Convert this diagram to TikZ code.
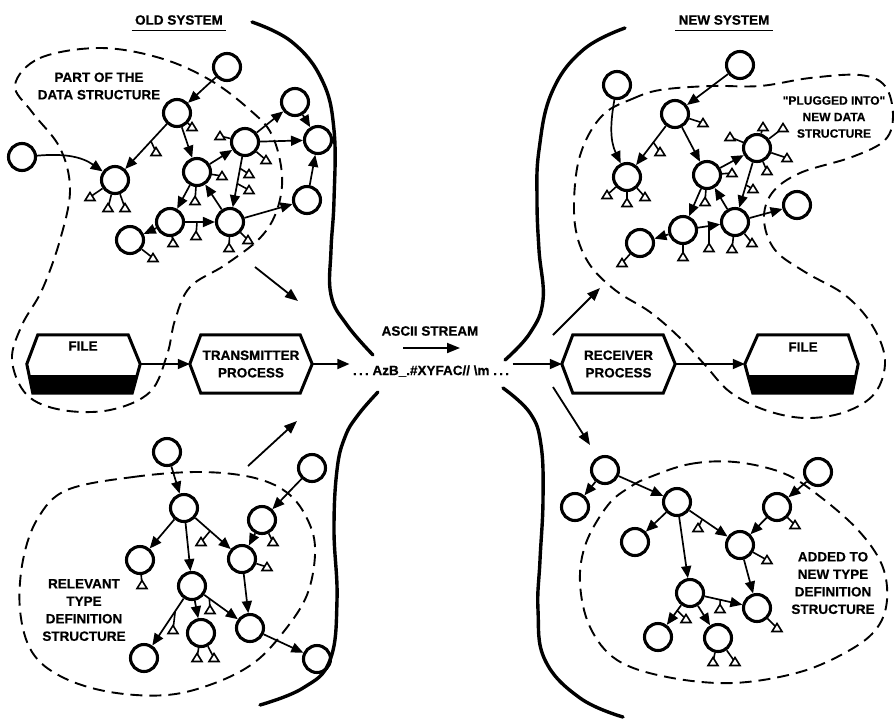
\documentclass[tikz,border=0pt]{standalone}
\usepackage{fontspec}
\setmainfont{Liberation Sans}
\newfontfamily\lblfont[BoldFeatures={FakeBold=0.5}]{Liberation Sans}
\usetikzlibrary{arrows.meta,calc}

% short stub from a node (or a point on an edge) ending in an open pointer triangle
\newcommand\ptrto[2]{\draw[stub] #1 -- #2; \pic at #2 {ptr};}

\begin{document}
\begin{tikzpicture}[x=1pt,y=-1pt,
  every node/.style={font=\lblfont\fontsize{13.5}{17.5}\selectfont\bfseries},
  nd/.style={circle, draw, line width=3.1pt, minimum size=27pt, inner sep=0pt},
  edge/.style={line width=1.7pt, -{Triangle[length=12pt,width=10pt]}},
  flow/.style={line width=1.8pt, -{Triangle[length=13pt,width=10pt]}},
  stub/.style={line width=1.6pt},
  wall/.style={line width=3.4pt, line cap=round},
  region/.style={line width=1.9pt, dash pattern=on 12pt off 7pt},
  boxline/.style={line width=3pt, line join=miter},
  box/.style={rectangle, minimum width=113pt, minimum height=58pt, inner sep=0pt},
  lbl/.style={align=center, inner sep=0pt},
  ptr/.pic={\draw[line width=1.6pt, fill=white, line join=miter] (0,-4.5) -- (-5,3.5) -- (5,3.5) -- cycle;}
]
\useasboundingbox (0,0) rectangle (894,724);

% ---------- titles ----------
\node (old) at (179,20) {OLD SYSTEM};
\draw[line width=1.4pt] ([yshift=-2pt]old.south west) -- ([yshift=-2pt]old.south east);
\node (new) at (724,20) {NEW SYSTEM};
\draw[line width=1.4pt] ([yshift=-2pt]new.south west) -- ([yshift=-2pt]new.south east);

% ---------- system boundaries ----------
\draw[wall] plot[smooth, tension=0.7] coordinates {(252,22) (292,42) (322,80) (334,130) (334,200) (331,250) (331,295) (347,325) (373,355)};
\draw[wall] plot[smooth, tension=0.7] coordinates {(378,392) (358,415) (345,437) (337,470) (334,530) (337,600) (330,660) (303,688) (260,705)};
\draw[wall] plot[smooth, tension=0.7] coordinates {(625,28) (583,50) (552,92) (539,150) (537,200) (539,250) (543,300) (530,333) (505,360)};
\draw[wall] plot[smooth, tension=0.7] coordinates {(503,388) (530,413) (541,445) (543,500) (540,560) (538,610) (545,660) (580,698) (623,717)};

% ---------- dashed groupings ----------
\draw[region] plot[smooth cycle, tension=0.6] coordinates {(15,85) (40,58) (100,48) (160,58) (210,80) (250,110) (272,135) (282,175) (277,210) (260,238) (225,265) (190,287) (175,320) (167,355) (150,392) (110,410) (62,410) (27,395) (12,360) (22,325) (42,290) (60,240) (70,190) (60,148) (32,112)};
\draw[region] plot[smooth cycle, tension=0.6] coordinates {(67,490) (133,477) (200,472) (255,478) (290,495) (310,525) (315,555) (307,595) (285,630) (255,662) (215,683) (167,695) (110,692) (62,677) (32,652) (20,610) (23,560) (38,518)};
\draw[region] plot[smooth cycle, tension=0.6] coordinates {(605,113) (632,99) (660,90) (710,86) (760,86) (810,78) (860,75) (885,86) (893,115) (885,140) (852,157) (800,173) (772,193) (764,220) (775,250) (805,272) (845,295) (872,325) (885,360) (875,393) (845,412) (805,418) (765,410) (730,392) (705,365) (680,338) (650,312) (615,290) (588,262) (575,225) (576,175) (586,140)};
\draw[region] plot[smooth cycle, tension=0.6] coordinates {(650,477) (690,464) (735,462) (783,473) (818,495) (858,530) (882,565) (887,600) (877,628) (850,650) (800,672) (733,683) (667,677) (617,660) (590,627) (580,583) (586,543) (608,505) (630,487)};

% ---------- group labels ----------
\node[lbl] (lpart) at (99,86) {PART OF THE\\DATA STRUCTURE};
\node[lbl] (lrel) at (84,610) {RELEVANT\\TYPE\\DEFINITION\\STRUCTURE};
\node[lbl, font=\lblfont\fontsize{12}{16.5}\selectfont\bfseries] (lplug) at (834,117) {\symbol{34}PLUGGED INTO\symbol{34}\\NEW DATA\\STRUCTURE};
\node[lbl] (ladd) at (833,583) {ADDED TO\\NEW TYPE\\DEFINITION\\STRUCTURE};

% ---------- old data structure ----------
\node[nd] (A) at (227,67) {};
\node[nd] (B) at (177,113) {};
\node[nd] (C) at (22,157) {};
\node[nd] (D) at (115,180) {};
\node[nd] (E) at (197,172) {};
\node[nd] (F) at (245,142) {};
\node[nd] (G) at (295,102) {};
\node[nd] (H) at (318,140) {};
\node[nd] (I) at (307,200) {};
\node[nd] (J) at (170,222) {};
\node[nd] (K) at (230,222) {};
\node[nd] (L) at (130,240) {};
\draw[edge] (A) -- (B);
\draw[edge] (B) -- (D);
\draw[edge] (C) to[out=5,in=145] (D);
\draw[edge] (B) -- (E);
\draw[edge] (E) -- (F);
\draw[edge] (F) -- (G);
\draw[edge] (F) -- (H);
\draw[edge] (G) -- (H);
\draw[edge] (I) -- (H);
\draw[edge] (F) -- (K);
\draw[edge] (K) -- (E);
\draw[edge] (E) -- (J);
\draw[edge] (J) -- (K);
\draw[edge] (K) -- (I);
\draw[edge] (J) -- (L);
\ptrto{(B)}{(192,127)}
\ptrto{($(B)!.42!(D)$)}{(156,152)}
\ptrto{(D)}{(90,197)}
\ptrto{(D)}{(108,208)}
\ptrto{(D)}{(125,208)}
\ptrto{(F)}{(220,136)}
\ptrto{(F)}{(266,160)}
\ptrto{($(F)!.33!(K)$)}{(249,174)}
\ptrto{($(F)!.52!(K)$)}{(249,190)}
\ptrto{(E)}{(222,176)}
\ptrto{(E)}{(195,201)}
\ptrto{(J)}{(173,243)}
\ptrto{($(J)!.45!(K)$)}{(196,236)}
\ptrto{(K)}{(229,248)}
\ptrto{(K)}{(248,240)}
\ptrto{(L)}{(153,258)}

% ---------- old type definitions ----------
\node[nd] (P1) at (167,452) {};
\node[nd] (P2) at (184,508) {};
\node[nd] (P3) at (312,468) {};
\node[nd] (P4) at (262,520) {};
\node[nd] (P5) at (140,560) {};
\node[nd] (P6) at (242,559) {};
\node[nd] (P7) at (192,586) {};
\node[nd] (P8) at (250,628) {};
\node[nd] (P9) at (144,658) {};
\node[nd] (P10) at (201,633) {};
\node[nd] (P11) at (317,659) {};
\draw[edge] (P1) -- (P2);
\draw[edge] (P2) -- (P5);
\draw[edge] (P2) -- (P7);
\draw[edge] (P2) -- (P6);
\draw[edge] (P3) -- (P4);
\draw[edge] (P4) -- (P6);
\draw[edge] (P6) -- (P8);
\draw[edge] (P7) -- (P9);
\draw[edge] (P7) -- (P10);
\draw[edge] (P7) -- (P8);
\draw[edge] (P8) -- (P11);
\ptrto{($(P2)!.45!(P6)$)}{(201,542)}
\ptrto{(P4)}{(273,542)}
\ptrto{(P5)}{(142,585)}
\ptrto{(P6)}{(267,567)}
\ptrto{($(P7)!.3!(P8)$)}{(210,610)}
\ptrto{($(P7)!.35!(P9)$)}{(173,630)}
\ptrto{(P10)}{(197,658)}
\ptrto{(P10)}{(214,658)}

% ---------- new data structure ----------
\node[nd] (Q1) at (617,85) {};
\node[nd] (Q2) at (675,114) {};
\node[nd] (Q3) at (740,65) {};
\node[nd] (Q4) at (627,177) {};
\node[nd] (Q5) at (707,175) {};
\node[nd] (Q6) at (757,148) {};
\node[nd] (Q7) at (735,222) {};
\node[nd] (Q8) at (683,230) {};
\node[nd] (Q9) at (640,243) {};
\node[nd] (Q10) at (797,205) {};
\draw[edge] (Q3) -- (Q2);
\draw[edge] (Q1) to[out=-100,in=115] (Q4);
\draw[edge] (Q2) -- (Q4);
\draw[edge] (Q2) -- (Q5);
\draw[edge] (Q5) -- (Q6);
\draw[edge] (Q6) -- (Q7);
\draw[edge] (Q7) -- (Q5);
\draw[edge] (Q5) -- (Q8);
\draw[edge] (Q8) -- (Q9);
\draw[edge] (Q8) -- (Q7);
\draw[edge] (Q7) -- (Q10);
\ptrto{(Q2)}{(703,123)}
\ptrto{($(Q2)!.45!(Q4)$)}{(660,152)}
\ptrto{(Q4)}{(607,195)}
\ptrto{(Q4)}{(627,203)}
\ptrto{(Q4)}{(645,197)}
\ptrto{(Q5)}{(732,173)}
\ptrto{(Q5)}{(705,202)}
\ptrto{(Q6)}{(730,137)}
\ptrto{(Q6)}{(763,127)}
\ptrto{(Q6)}{(783,128)}
\ptrto{(Q6)}{(787,158)}
\ptrto{(Q6)}{(767,171)}
\ptrto{($(Q6)!.5!(Q7)$)}{(753,189)}
\ptrto{(Q8)}{(683,257)}
\ptrto{($(Q8)!.5!(Q7)$)}{(709,248)}
\ptrto{(Q7)}{(732,249)}
\ptrto{(Q7)}{(752,243)}
\ptrto{(Q9)}{(622,263)}

% ---------- new type definitions ----------
\node[nd] (R1) at (605,470) {};
\node[nd] (R2) at (575,507) {};
\node[nd] (R3) at (677,502) {};
\node[nd] (R4) at (818,472) {};
\node[nd] (R5) at (777,507) {};
\node[nd] (R6) at (635,542) {};
\node[nd] (R7) at (740,545) {};
\node[nd] (R8) at (690,593) {};
\node[nd] (R9) at (757,608) {};
\node[nd] (R10) at (658,637) {};
\node[nd] (R11) at (718,638) {};
\draw[edge] (R1) -- (R2);
\draw[edge] (R1) -- (R3);
\draw[edge] (R3) -- (R6);
\draw[edge] (R3) -- (R8);
\draw[edge] (R3) -- (R7);
\draw[edge] (R4) -- (R5);
\draw[edge] (R5) -- (R7);
\draw[edge] (R7) -- (R9);
\draw[edge] (R8) -- (R9);
\draw[edge] (R8) -- (R10);
\draw[edge] (R8) -- (R11);
\ptrto{($(R3)!.4!(R7)$)}{(698,528)}
\ptrto{(R5)}{(795,525)}
\ptrto{(R7)}{(767,560)}
\ptrto{($(R8)!.45!(R9)$)}{(720,609)}
\ptrto{($(R8)!.4!(R10)$)}{(686,619)}
\ptrto{(R9)}{(777,628)}
\ptrto{(R11)}{(713,662)}
\ptrto{(R11)}{(735,662)}

% ---------- files and processes ----------
\node[box] (f1) at (83.5,364) {};
\fill ([xshift=2.5pt,yshift=-11pt]f1.west) -- ([xshift=-3pt,yshift=-11pt]f1.east) -- ([xshift=-8pt]f1.south east) -- ([xshift=6pt]f1.south west) -- cycle;
\draw[boxline] (f1.west) -- ([xshift=11pt]f1.north west) -- ([xshift=-12pt]f1.north east) -- (f1.east) -- ([xshift=-8pt]f1.south east) -- ([xshift=6pt]f1.south west) -- cycle;
\node (f1t) at (83,346) {FILE};

\node[box, minimum width=122pt, align=center] (tx) at (251,364) {TRANSMITTER\\PROCESS};
\draw[boxline] (tx.west) -- ([xshift=11pt]tx.north west) -- ([xshift=-12pt]tx.north east) -- (tx.east) -- ([xshift=-12pt]tx.south east) -- ([xshift=11pt]tx.south west) -- cycle;

\node[box, align=center] (rx) at (618.5,364) {RECEIVER\\PROCESS};
\draw[boxline] (rx.west) -- ([xshift=11pt]rx.north west) -- ([xshift=-12pt]rx.north east) -- (rx.east) -- ([xshift=-12pt]rx.south east) -- ([xshift=11pt]rx.south west) -- cycle;

\node[box] (f2) at (801.5,364) {};
\fill ([xshift=2.5pt,yshift=-11pt]f2.west) -- ([xshift=-3pt,yshift=-11pt]f2.east) -- ([xshift=-6pt]f2.south east) -- ([xshift=8pt]f2.south west) -- cycle;
\draw[boxline] (f2.west) -- ([xshift=13pt]f2.north west) -- ([xshift=-10pt]f2.north east) -- (f2.east) -- ([xshift=-6pt]f2.south east) -- ([xshift=8pt]f2.south west) -- cycle;
\node (f2t) at (803,347) {FILE};

% ---------- ASCII stream ----------
\node (ascii) at (430,331) {ASCII STREAM};
\coordinate (as1) at (403,348);
\coordinate (as2) at (460,348);
\draw[flow] (as1) -- (as2);
\node (st) at (431,371) {.\,.\,.\ AzB\_.\#XYFAC// \textbackslash m .\,.\,.};

\draw[edge] (f1) -- (tx);
\draw[edge] (tx.east) -- (tx.east -| st.west);
\draw[edge] (st.east |- rx.west) -- (rx.west);
\draw[edge] (rx) -- (f2);

% ---------- transfer arrows ----------
\coordinate (tl0) at (255,267); \coordinate (tl1) at (298,301);
\coordinate (bl0) at (248,466); \coordinate (bl1) at (297,421);
\coordinate (tr0) at (553,335); \coordinate (tr1) at (600,288);
\coordinate (br0) at (553,387); \coordinate (br1) at (590,445);
\draw[flow] (tl0) -- (tl1);
\draw[flow] (bl0) -- (bl1);
\draw[flow] (tr0) -- (tr1);
\draw[flow] (br0) -- (br1);
\end{tikzpicture}
\end{document}
